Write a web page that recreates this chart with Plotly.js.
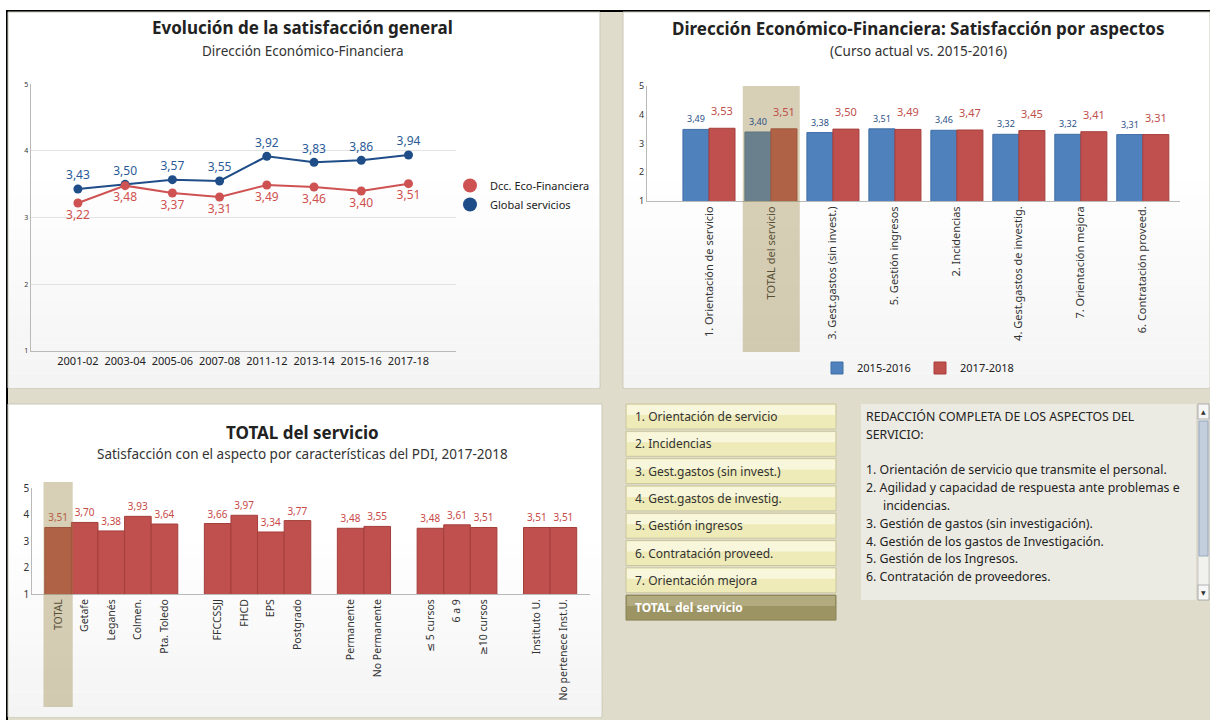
<!DOCTYPE html>
<html><head><meta charset="utf-8">
<script src="https://cdn.plot.ly/plotly-3.0.1.min.js"></script>
<style>html,body{margin:0;padding:0;background:#fff;}#chart{width:1210px;height:720px;}</style>
</head><body><div id="chart"></div>
<script>
// ---------- DATA ----------
const years = ['2001-02','2003-04','2005-06','2007-08','2011-12','2013-14','2015-16','2017-18'];
const ecoFinanciera = [3.22,3.48,3.37,3.31,3.49,3.46,3.40,3.51];
const globalServicios = [3.43,3.50,3.57,3.55,3.92,3.83,3.86,3.94];

const aspects = ['1. Orientación de servicio','TOTAL del servicio','3. Gest.gastos (sin invest.)','5. Gestión ingresos','2. Incidencias','4. Gest.gastos de investig.','7. Orientación mejora','6. Contratación proveed.'];
const aspects2015 = [3.49,3.40,3.38,3.51,3.46,3.32,3.32,3.31];
const aspects2017 = [3.53,3.51,3.50,3.49,3.47,3.45,3.41,3.31];

const pdiLabels = ['TOTAL','Getafe','Leganés','Colmen.','Pta. Toledo','FFCCSSJJ','FHCD','EPS','Postgrado','Permanente','No Permanente','≤ 5 cursos','6 a 9','≥10 cursos','Instituto U.','No pertenece Inst.U.'];
const pdiGroupSizes = [5,4,2,3,2];
const pdiValues = [3.51,3.70,3.38,3.93,3.64,3.66,3.97,3.34,3.77,3.48,3.55,3.48,3.61,3.51,3.51,3.51];

const buttonLabels = ['1. Orientación de servicio','2. Incidencias','3. Gest.gastos (sin invest.)','4. Gest.gastos de investig.','5. Gestión ingresos','6. Contratación proveed.','7. Orientación mejora','TOTAL del servicio'];
const descLines = ['REDACCIÓN COMPLETA DE LOS ASPECTOS DEL','SERVICIO:','','1. Orientación de servicio que transmite el personal.','2. Agilidad y capacidad de respuesta ante problemas e','   incidencias.','3. Gestión de gastos (sin investigación).','4. Gestión de los gastos de Investigación.','5. Gestión de los Ingresos.','6. Contratación de proveedores.'];

// ---------- HELPERS ----------
const W = 1210, H = 720;
const X = p => p / W, Y = p => 1 - p / H;
const FONT = 'Noto Sans, DejaVu Sans, sans-serif';
const RED_LINE = '#cf5252', BLUE_LINE = '#1f4d88';
const RED_BAR = '#c0504d', BLUE_BAR = '#4f81bd';

const shapes = [];
const annotations = [];
function rect(x0, y0, x1, y1, fill, line, layer, opacity) {
  shapes.push({type:'rect', xref:'paper', yref:'paper', x0:X(x0), x1:X(x1), y0:Y(y1), y1:Y(y0),
    fillcolor:fill, line:line ? {color:line, width:1} : {width:0}, layer:layer || 'below', opacity: opacity == null ? 1 : opacity});
}
function gradientPanel(x0, y0, x1, y1) {
  rect(x0, y0, x1, y1, '#ffffff', '#c9c7b8');
  const mid = y0 + (y1 - y0) * 0.45, n = 14;
  for (let i = 0; i < n; i++) {
    const a = mid + (y1 - mid) * i / n, b = mid + (y1 - mid) * (i + 1) / n;
    const c = Math.round(255 - 11 * (i + 1) / n);
    rect(x0 + 1, a, x1 - 1, b, `rgb(${c},${c},${c})`);
  }
}

// frame & panels
rect(8, 12, 1210, 720, '#dfdccb');
rect(6, 10, 1210, 12, '#000000');
rect(6, 10, 8, 720, '#000000');
gradientPanel(8, 12, 600, 388);
gradientPanel(623, 12, 1210, 388);
gradientPanel(8, 404, 602, 717);

// ---------- TITLES ----------
function txt(x, y, text, size, opts) {
  annotations.push(Object.assign({xref:'paper', yref:'paper', x:X(x), y:Y(y), text:text, showarrow:false,
    xanchor:'center', yanchor:'middle', font:{family:FONT, size:size, color:'#222'}}, opts || {}));
}
const SUB = {family:FONT, size:13.5, color:'#333'};
txt(302, 28, '<b>Evolución de la satisfacción general</b>', 17);
txt(303, 51, 'Dirección Económico-Financiera', 13.5, {font:SUB});
txt(918, 29, '<b>Dirección Económico-Financiera: Satisfacción por aspectos</b>', 17);
txt(918, 51, '(Curso actual vs. 2015-2016)', 13.5, {font:SUB});
txt(302, 432, '<b>TOTAL del servicio</b>', 17);
txt(302, 454, 'Satisfacción con el aspecto por características del PDI, 2017-2018', 13.5, {font:SUB});

// ---------- CHART 2 value labels ----------
aspects.forEach((c, i) => {
  annotations.push({xref:'x2', yref:'y2', x:c, y:aspects2015[i], text:aspects2015[i].toFixed(2).replace('.', ','),
    showarrow:false, xshift:-13, yshift:2, yanchor:'bottom', font:{family:FONT, size:9, color:'#2a4f86'}});
  annotations.push({xref:'x2', yref:'y2', x:c, y:aspects2017[i], text:aspects2017[i].toFixed(2).replace('.', ','),
    showarrow:false, xshift:13, yshift:8, yanchor:'bottom', font:{family:FONT, size:11, color:'#c0504d'}});
});

// highlight bands (above traces, translucent)
const tIdx = aspects.indexOf('TOTAL del servicio');
shapes.push({type:'rect', xref:'x2', yref:'paper', x0:tIdx - 0.455, x1:tIdx + 0.465, y0:Y(352), y1:Y(86),
  fillcolor:'rgb(150,128,64)', opacity:0.38, line:{width:0}, layer:'above'});

// chart 3 positions from groups
const pdiX = [];
{ let pos = 0;
  pdiGroupSizes.forEach((s, gi) => { if (gi > 0) pos += 1; for (let j = 0; j < s; j++) { pdiX.push(pos); pos++; } });
}
const pIdx = pdiLabels.indexOf('TOTAL');
shapes.push({type:'rect', xref:'x3', yref:'paper', x0:pdiX[pIdx] - 0.55, x1:pdiX[pIdx] + 0.55, y0:Y(707), y1:Y(482),
  fillcolor:'rgb(150,128,64)', opacity:0.38, line:{width:0}, layer:'above'});

// ---------- BUTTONS ----------
buttonLabels.forEach((b, i) => {
  const top = 404 + i * 27.3, bot = top + 25;
  const sel = i === buttonLabels.length - 1;
  rect(626, top, 836, bot, sel ? '#9d9463' : '#eeebb9', sel ? '#8a8257' : '#c9c6a0');
  rect(627, top + 1, 835, top + 11, sel ? '#b3ab80' : '#f8f7dc');
  txt(633, top + 12.5, sel ? '<b>' + b + '</b>' : b, 12,
    {xanchor:'left', font:{family:FONT, size:12, color: sel ? '#ffffff' : '#333'}});
});

// ---------- DESCRIPTION BOX ----------
rect(861, 404, 1196, 600, '#ecebe3');
descLines.forEach((l, i) => {
  if (!l.trim()) return;
  const indent = /^\s/.test(l) ? 17 : 0;
  txt(864 + indent, 416.5 + i * 17.8, l.trim(), 12.3, {xanchor:'left', font:{family:FONT, size:12.3, color:'#222'}});
});
// scrollbar
rect(1198, 404, 1209, 600, '#f1f1ee', '#c8c8c8');
rect(1198, 404, 1209, 419, '#f6f6f6', '#b0b0b0');
rect(1199, 421, 1208, 556, '#c3cfdd', '#97a8bd');
rect(1198, 585, 1209, 600, '#f6f6f6', '#b0b0b0');
txt(1203.5, 411.5, '▲', 6, {font:{family:FONT, size:6, color:'#333'}});
txt(1203.5, 592.5, '▼', 6, {font:{family:FONT, size:6, color:'#333'}});

// ---------- TRACES ----------
const traces = [
  {type:'scatter', mode:'lines+markers+text', x:years, y:globalServicios, xaxis:'x', yaxis:'y', showlegend:false,
   line:{color:BLUE_LINE, width:2}, marker:{size:9, color:BLUE_LINE}, texttemplate:'%{y:.2f}', textposition:'top center',
   textfont:{family:FONT, size:12, color:'#2a5a98'}, cliponaxis:false, name:'Global servicios'},
  {type:'scatter', mode:'lines+markers+text', x:years, y:ecoFinanciera, xaxis:'x', yaxis:'y', showlegend:false,
   line:{color:RED_LINE, width:2}, marker:{size:9, color:RED_LINE}, texttemplate:'%{y:.2f}', textposition:'bottom center',
   textfont:{family:FONT, size:12, color:'#d05050'}, cliponaxis:false, name:'Dcc. Eco-Financiera'},
  {type:'scatter', mode:'markers', x:[null], y:[null], xaxis:'x', yaxis:'y', name:'Dcc. Eco-Financiera',
   marker:{size:14, color:'#cf5252'}, legend:'legend'},
  {type:'scatter', mode:'markers', x:[null], y:[null], xaxis:'x', yaxis:'y', name:'Global servicios',
   marker:{size:14, color:BLUE_LINE}, legend:'legend'},

  {type:'bar', x:aspects, y:aspects2015, xaxis:'x2', yaxis:'y2', name:'2015-2016', legend:'legend2',
   marker:{color:BLUE_BAR, line:{color:'#3f6ea6', width:1}}},
  {type:'bar', x:aspects, y:aspects2017, xaxis:'x2', yaxis:'y2', name:'2017-2018', legend:'legend2',
   marker:{color:RED_BAR, line:{color:'#a53f3c', width:1}}},

  {type:'bar', x:pdiX, y:pdiValues, xaxis:'x3', yaxis:'y3', showlegend:false, width:1,
   marker:{color:RED_BAR, line:{color:'#a33e3b', width:1}}, texttemplate:'%{y:.2f}', textposition:'outside',
   textfont:{family:FONT, size:10, color:'#c84a48'}, cliponaxis:false}
];

const axGray = '#b9b9b9';
const layout = {
  width: W, height: H, margin:{l:0, r:0, t:0, b:0},
  paper_bgcolor:'#ffffff', plot_bgcolor:'rgba(0,0,0,0)',
  separators:',.', font:{family:FONT, color:'#333', size:11},
  barmode:'group', bargap:0.16, bargroupgap:0,
  xaxis:{domain:[X(30.7), X(455.7)], anchor:'y', type:'category', range:[-1, 8], showgrid:false,
    showline:true, linecolor:axGray, ticks:'', tickfont:{size:11, color:'#222'}, fixedrange:true},
  yaxis:{domain:[Y(351), Y(84.3)], anchor:'x', range:[1, 5], dtick:1, showgrid:true, gridcolor:'#e3e3e3',
    showline:true, linecolor:axGray, ticks:'', tickfont:{size:7, color:'#333'}, zeroline:false},
  xaxis2:{domain:[X(647), X(1180)], anchor:'y2', type:'category', range:[-1, 7.6], showgrid:false,
    showline:true, linecolor:axGray, ticks:'', tickangle:-90, tickfont:{size:11, color:'#333'}},
  yaxis2:{domain:[Y(201), Y(86)], anchor:'x2', range:[1, 5], dtick:1, showgrid:false,
    showline:true, linecolor:axGray, ticks:'', tickfont:{size:9, color:'#333'}, zeroline:false},
  xaxis3:{domain:[X(32.3), X(590)], anchor:'y3', range:[-0.97, 20], showgrid:false, zeroline:false,
    showline:true, linecolor:axGray, ticks:'', tickmode:'array', tickvals:pdiX, ticktext:pdiLabels,
    tickangle:-90, tickfont:{size:10.5, color:'#333'}},
  yaxis3:{domain:[Y(594), Y(488)], anchor:'x3', range:[1, 5], dtick:1, showgrid:false,
    showline:true, linecolor:axGray, ticks:'', tickfont:{size:10, color:'#333'}, zeroline:false},
  legend:{x:X(450), y:Y(171), xanchor:'left', yanchor:'top', bgcolor:'rgba(0,0,0,0)', font:{size:11, color:'#222'},
    itemsizing:'trace'},
  legend2:{orientation:'h', x:X(920), xanchor:'center', y:Y(368), yanchor:'middle', bgcolor:'rgba(0,0,0,0)',
    font:{size:11, color:'#222'}, entrywidth:58, entrywidthmode:'pixels'},
  shapes: shapes, annotations: annotations
};

Plotly.newPlot('chart', traces, layout, {displayModeBar:false, staticPlot:true});
</script></body></html>
